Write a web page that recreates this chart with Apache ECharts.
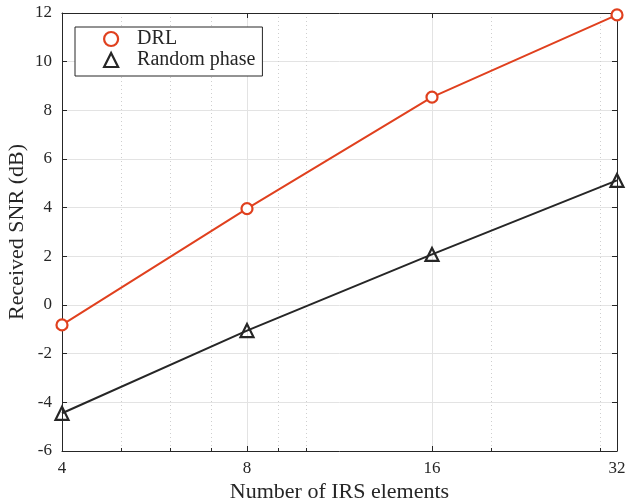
<!DOCTYPE html>
<html>
<head>
<meta charset="utf-8">
<script src="https://cdn.jsdelivr.net/npm/echarts@6/dist/echarts.min.js"></script>
<style>
  html, body { margin: 0; padding: 0; background: #fff; }
  #chart { width: 629px; height: 501px; }
</style>
</head>
<body>
<div id="chart"></div>
<script>
var elements = [4, 8, 16, 32];
var drl = [-0.82, 3.96, 8.54, 11.92];
var randomPhase = [-4.45, -1.05, 2.08, 5.12];
var minorX = [5, 6, 7, 9, 10, 20, 30];

var red = '#e0401e';
var dark = '#262626';
var font = 'Liberation Serif';

function pairs(ys) {
    return elements.map(function (x, i) { return [x, ys[i]]; });
}

var chart = echarts.init(document.getElementById('chart'));
chart.setOption({
    animation: false,
    grid: { left: 62, right: 12, top: 13, bottom: 50, containLabel: false, outerBoundsMode: 'none' },
    legend: {
        orient: 'vertical',
        left: 75,
        top: 27,
        padding: [2, 7, 6, 28],
        itemGap: 1,
        itemWidth: 14,
        itemHeight: 14,
        backgroundColor: '#fff',
        borderColor: dark,
        borderWidth: 1,
        borderRadius: 0,
        textStyle: { fontFamily: font, fontSize: 20, color: dark, lineHeight: 20, padding: [0, 0, 0, 14] },
        data: [
            { name: 'DRL', icon: 'circle', itemStyle: { color: '#fff', borderColor: red, borderWidth: 2.2 } },
            { name: 'Random phase', icon: 'triangle', itemStyle: { color: '#fff', borderColor: dark, borderWidth: 2.2 } }
        ]
    },
    xAxis: [{
        type: 'log', logBase: 2, min: 4, max: 32, position: 'bottom',
        name: 'Number of IRS elements', nameLocation: 'middle', nameGap: 30, nameMoveOverlap: false,
        nameTextStyle: { fontFamily: font, fontSize: 22, color: dark },
        axisLine: { onZero: false, lineStyle: { color: dark, width: 1 } },
        axisTick: { inside: true, length: 5, lineStyle: { color: dark } },
        axisLabel: { fontFamily: font, fontSize: 17, color: dark, margin: 9 },
        splitLine: { show: true, lineStyle: { color: '#e3e3e3', width: 1 } }
    }, {
        type: 'log', logBase: 2, min: 4, max: 32, position: 'top',
        axisLine: { onZero: false, lineStyle: { color: dark, width: 1 } },
        axisTick: { inside: true, length: 5, lineStyle: { color: dark } },
        axisLabel: { show: false },
        splitLine: { show: false }
    }, {
        type: 'value', min: 2, max: 5, position: 'bottom',
        axisLine: { show: false, onZero: false },
        axisTick: { show: true, inside: true, length: 3, lineStyle: { color: dark },
            customValues: minorX.map(function (v) { return Math.log2(v); }) },
        axisLabel: { show: false },
        splitLine: { show: true, lineStyle: { color: '#cfcfcf', type: [1, 3], width: 1 } }
    }],
    yAxis: [{
        type: 'value', min: -6, max: 12, interval: 2,
        name: 'Received SNR (dB)', nameLocation: 'middle', nameGap: 34, nameMoveOverlap: false,
        nameTextStyle: { fontFamily: font, fontSize: 22, color: dark },
        axisLine: { show: true, onZero: false, lineStyle: { color: dark, width: 1 } },
        axisTick: { show: true, inside: true, length: 5, lineStyle: { color: dark } },
        axisLabel: { fontFamily: font, fontSize: 17, color: dark, margin: 10 },
        splitLine: { show: true, lineStyle: { color: '#e3e3e3', width: 1 } }
    }, {
        type: 'value', min: -6, max: 12, interval: 2, position: 'right',
        axisLine: { show: true, onZero: false, lineStyle: { color: dark, width: 1 } },
        axisTick: { show: true, inside: true, length: 5, lineStyle: { color: dark } },
        axisLabel: { show: false },
        splitLine: { show: false }
    }],
    series: [{
        name: 'DRL', type: 'line', xAxisIndex: 0, yAxisIndex: 0,
        data: pairs(drl),
        symbol: 'circle', symbolSize: 11,
        lineStyle: { color: red, width: 2 },
        itemStyle: { color: '#fff', borderColor: red, borderWidth: 2.2 },
        z: 3
    }, {
        name: 'Random phase', type: 'line', xAxisIndex: 0, yAxisIndex: 0,
        data: pairs(randomPhase),
        symbol: 'triangle', symbolSize: 13,
        lineStyle: { color: dark, width: 2 },
        itemStyle: { color: 'rgba(255,255,255,0)', borderColor: dark, borderWidth: 2.2 },
        z: 3
    }]
});
</script>
</body>
</html>
